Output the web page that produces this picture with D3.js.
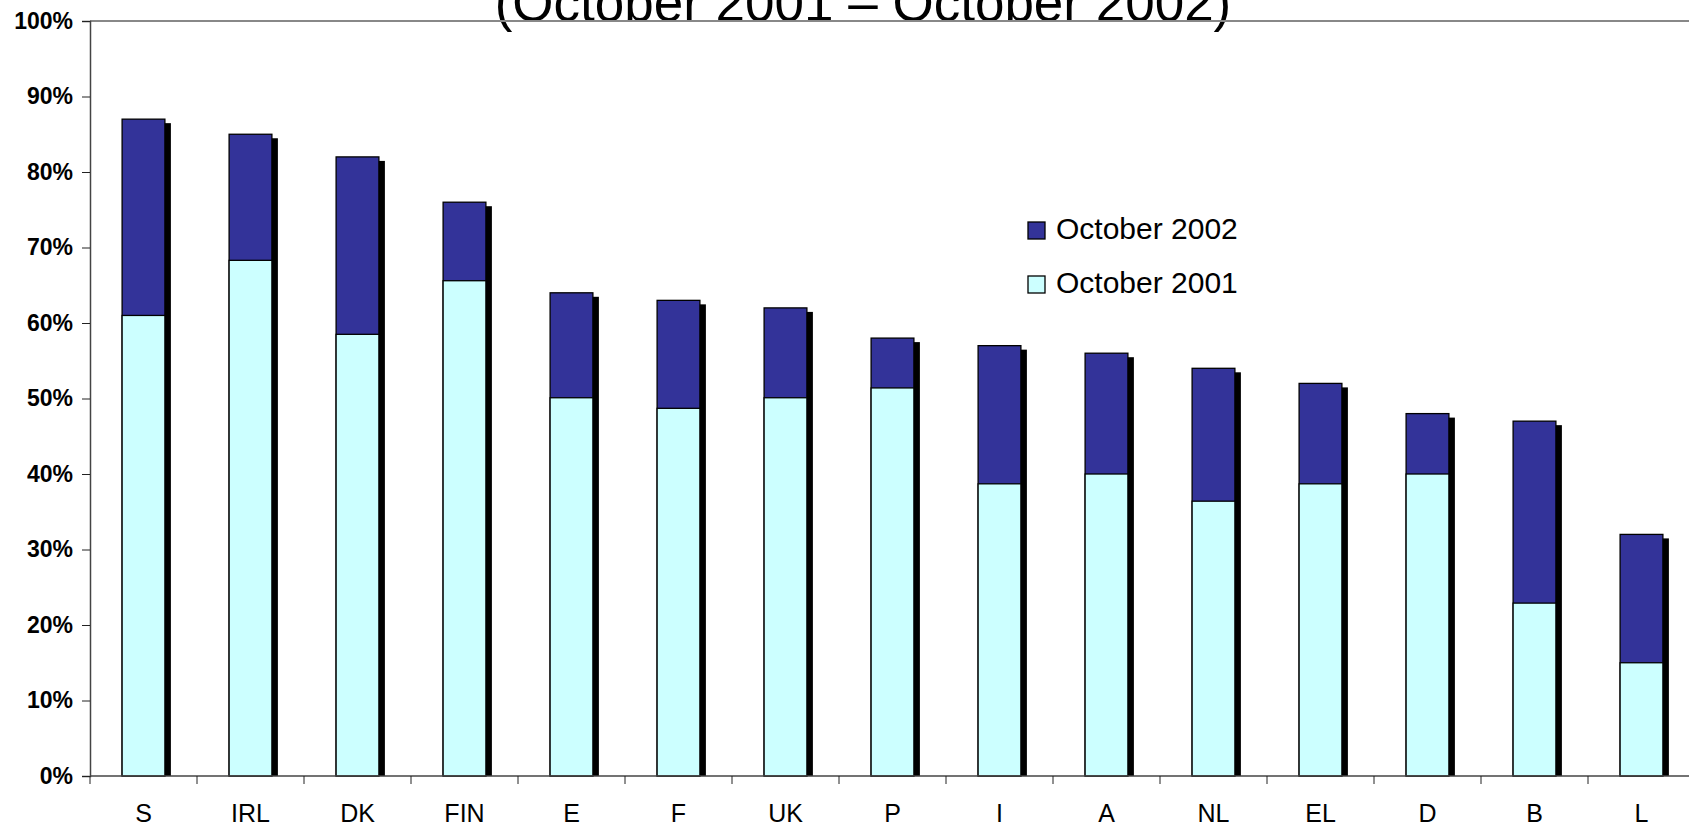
<!DOCTYPE html>
<html lang="en">
  <head>
    <meta charset="utf-8">
    <title>October 2001 - October 2002</title>
    <script src="https://cdn.jsdelivr.net/npm/d3@7"></script>
    <style>
      body { margin: 0; background: #fff; }
      text { font-family: "Liberation Sans", Arial, sans-serif; }
    </style>
  </head>
  <body>
    <script type="text/javascript">

      var categories = ["S", "IRL", "DK", "FIN", "E", "F", "UK", "P", "I", "A", "NL", "EL", "D", "B", "L"];
      var oct2002 = [87, 85, 82, 76, 64, 63, 62, 58, 57, 56, 54, 52, 48, 47, 32];
      var oct2001 = [61, 68.3, 58.5, 65.6, 50.1, 48.7, 50.1, 51.4, 38.7, 40, 36.4, 38.7, 40, 22.9, 15];
      var yTicks = [0, 10, 20, 30, 40, 50, 60, 70, 80, 90, 100];
      var seriesNames = ["October 2002", "October 2001"];
      var titleText = "(October 2001 \u2013 October 2002)";

      var data = categories.map(function(c, i) {
        return {cat: c, v2002: oct2002[i], v2001: oct2001[i]};
      });

      var W = 1689, H = 825;
      var plotLeft = 90, plotTop = 21, plotBottom = 776;
      var dark = "#333399", light = "#ccffff";

      var svg = d3.select("body").append("svg")
          .attr("width", W)
          .attr("height", H);

      var x = d3.scaleBand()
          .domain(categories)
          .range([plotLeft, plotLeft + 15 * 107])
          .paddingInner(0.6)
          .paddingOuter(0.3);

      var y = d3.scaleLinear().domain([0, 100]).range([plotBottom, plotTop]);

      // title (top part cut off in the original)
      svg.append("text")
          .attr("x", 863)
          .attr("y", 21)
          .attr("text-anchor", "middle")
          .style("font-size", "53px")
          .text(titleText);

      // top border of plot area
      svg.append("line")
          .attr("x1", plotLeft).attr("x2", W)
          .attr("y1", plotTop).attr("y2", plotTop)
          .attr("stroke", "#888").attr("stroke-width", 2);

      // bars
      var g = svg.selectAll(".bar").data(data).enter().append("g").attr("class", "bar");

      g.append("rect")
          .attr("x", function(d) { return x(d.cat) + 6; })
          .attr("y", function(d) { return y(d.v2002) + 4; })
          .attr("width", x.bandwidth())
          .attr("height", function(d) { return plotBottom - y(d.v2002) - 4; })
          .attr("fill", "#000");

      g.append("rect")
          .attr("x", function(d) { return x(d.cat); })
          .attr("y", function(d) { return y(d.v2002); })
          .attr("width", x.bandwidth())
          .attr("height", function(d) { return plotBottom - y(d.v2002); })
          .attr("fill", dark)
          .attr("stroke", "#000").attr("stroke-width", 1.3);

      g.append("rect")
          .attr("x", function(d) { return x(d.cat); })
          .attr("y", function(d) { return y(d.v2001); })
          .attr("width", x.bandwidth())
          .attr("height", function(d) { return plotBottom - y(d.v2001); })
          .attr("fill", light)
          .attr("stroke", "#000").attr("stroke-width", 1.3);

      // y axis
      var yAxis = d3.axisLeft(y)
          .tickValues(yTicks)
          .tickSize(8)
          .tickPadding(9)
          .tickFormat(function(d) { return d + "%"; });

      var ya = svg.append("g")
          .attr("transform", "translate(" + plotLeft + ",0)")
          .call(yAxis);
      ya.select(".domain").attr("stroke", "#444").attr("stroke-width", 1.5);
      ya.selectAll(".tick line").attr("stroke", "#222");
      ya.selectAll(".tick text")
          .style("font-size", "23px")
          .style("font-weight", "bold")
          .attr("fill", "#000")
          .attr("font-family", null);

      // x axis: labels at band centres, ticks at band edges
      svg.append("line")
          .attr("x1", plotLeft).attr("x2", W)
          .attr("y1", plotBottom).attr("y2", plotBottom)
          .attr("stroke", "#444").attr("stroke-width", 1.5);

      svg.selectAll(".xtick")
          .data(d3.range(categories.length + 1))
          .enter().append("line")
          .attr("class", "xtick")
          .attr("x1", function(i) { return plotLeft + i * x.step(); })
          .attr("x2", function(i) { return plotLeft + i * x.step(); })
          .attr("y1", plotBottom)
          .attr("y2", plotBottom + 8)
          .attr("stroke", "#222");

      svg.selectAll(".xlabel")
          .data(categories)
          .enter().append("text")
          .attr("class", "xlabel")
          .attr("x", function(d) { return x(d) + x.bandwidth() / 2; })
          .attr("y", 822)
          .attr("text-anchor", "middle")
          .style("font-size", "25px")
          .text(function(d) { return d; });

      // legend
      var legend = svg.selectAll(".legend")
          .data(seriesNames)
          .enter().append("g")
          .attr("class", "legend")
          .attr("transform", function(d, i) { return "translate(1028," + (222 + i * 54) + ")"; });

      legend.append("rect")
          .attr("width", 17).attr("height", 17)
          .attr("fill", function(d, i) { return i === 0 ? dark : light; })
          .attr("stroke", "#000").attr("stroke-width", 1.3);

      legend.append("text")
          .attr("x", 28)
          .attr("y", 17)
          .style("font-size", "30px")
          .text(function(d) { return d; });

    </script>
  </body>
</html>
